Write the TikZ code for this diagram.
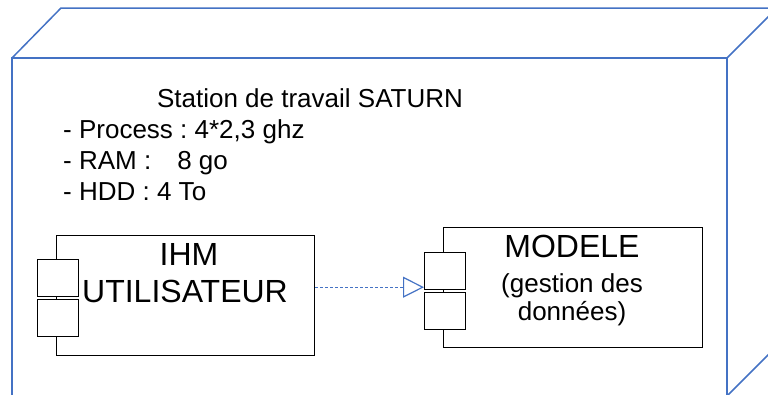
\documentclass[tikz,border=0pt]{standalone}
\usepackage{fontspec}
\setmainfont{Liberation Sans}
\frenchspacing
\usetikzlibrary{arrows.meta, positioning}
\definecolor{bleuoffice}{HTML}{4472C4}
\colorlet{colNoeud}{bleuoffice}
\colorlet{colLien}{bleuoffice}
\colorlet{colTrait}{black}
\tikzset{
  boiteComposant/.style={
    draw=colTrait, line width=1.2pt, fill=white, rectangle,
    inner sep=0pt, anchor=north west
  },
  boitePort/.style={boiteComposant, minimum width=41pt, minimum height=37pt},
  texteGrand/.style={font=\fontsize{32}{37}\selectfont, anchor=base, inner sep=0pt},
  texteMoyen/.style={font=\fontsize{26}{31}\selectfont, anchor=base, inner sep=0pt},
  texteListe/.style={texteMoyen, anchor=base west},
  areteNoeud/.style={draw=colNoeud, line width=1.5pt},
  flecheDependance/.style={-{Triangle[open, length=21pt, width=21pt, fill=white]},
    colLien, line width=1.2pt, dash pattern=on 3pt off 2pt},
}

\begin{document}
\begin{tikzpicture}[x=1pt, y=-1pt]
    \useasboundingbox (0,0) rectangle (768,394);
    \clip (0,0) rectangle (768,394);
    % noeud de deploiement
    \draw[areteNoeud] (12,400) -- (12,58) -- (727,58) -- (727,400);
    \draw[areteNoeud] (12,58) -- (61,8) -- (800,8);
    \draw[areteNoeud] (727,58) -- (777,8);
    \draw[areteNoeud] (727,396) -- (777,346);
    \node[texteMoyen] (titre) at (310,107) {Station de travail SATURN};
    \node[texteListe] (process) at (63,138) {- Process : 4*2,3 ghz};
    \node[texteListe] (ram) at (63,169) {- RAM :\hspace{26pt}8 go};
    \node[texteListe] (hdd) at (63,200) {- HDD : 4 To};
    % composants
    \node[boiteComposant, minimum width=258pt, minimum height=120pt] (ihm) at (56,235) {};
    \node[boitePort] (ihmPortA) at (37,259) {};
    \node[boitePort] (ihmPortB) at (37,299) {};
    \node[texteGrand] (ihmNom) at (189,265) {IHM};
    \node[texteGrand] (ihmNomB) at (185,302) {UTILISATEUR};
    \node[boiteComposant, minimum width=259pt, minimum height=120pt] (modele) at (443,227) {};
    \node[boitePort] (modelePortA) at (424,252) {};
    \node[boitePort] (modelePortB) at (424,292) {};
    \node[texteGrand] (modeleNom) at (572,257) {MODELE};
    \node[texteMoyen] (modeleDesc) at (572,292) {(gestion des};
    \node[texteMoyen] (modeleDescB) at (572,320) {données)};
    \draw[flecheDependance] ([yshift=3pt]ihm.east |- modelePortA.south west)
      -- ([yshift=3pt]modelePortA.south west);
\end{tikzpicture}
\end{document}
